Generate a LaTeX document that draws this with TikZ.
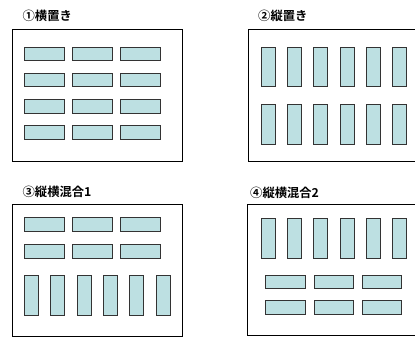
\documentclass[tikz,border=0pt]{standalone}
\usepackage{fontspec}
\newfontfamily\cjk{Noto Sans CJK JP}[BoldFont={Noto Sans CJK JP Bold}]
\definecolor{slotfill}{HTML}{BDE0E2}
\definecolor{slotline}{HTML}{333333}
\tikzset{
  frame/.style={draw=black, line width=0.9pt},
  slot/.style={draw=slotline, fill=slotfill, line width=1pt},
  title/.style={anchor=west, inner sep=0pt, font=\cjk\bfseries\fontsize{12.3}{14}\selectfont}
}
\begin{document}
\begin{tikzpicture}[x=1pt,y=-1pt]
\clip (0,0) rectangle (415,338);
\fill[white] (0,0) rectangle (415,338);
% titles
\node[title] (t1) at (22.5,16) {①横置き};
\node[title] (t2) at (258,16) {②縦置き};
\node[title] (t3) at (22.5,192) {③縦横混合1};
\node[title] (t4) at (250,193) {④縦横混合2};
% frames
\draw[frame] (12,29.3) rectangle (182.7,161);
\draw[frame] (248.3,29.3) rectangle (430,161);
\draw[frame] (12,204.3) rectangle (182.7,336.5);
\draw[frame] (247.7,204.3) rectangle (430,335.7);
% panel 1: horizontal slots 3x4
\foreach \x in {24.3,72.7,120.7}
  \foreach \y in {47,73.3,99.6,125.9}
    \draw[slot] (\x,\y) rectangle ++(40.2,13.6);
% panel 2: vertical slots 6x2
\foreach \x in {261,287.3,313.6,340,366.3,392.7}
  \foreach \y in {47,104.3}
    \draw[slot] (\x,\y) rectangle ++(14,39.7);
% panel 3
\foreach \x in {24.3,72.7,120.7}
  \foreach \y in {217.7,244.3}
    \draw[slot] (\x,\y) rectangle ++(40.2,13.8);
\foreach \x in {24.3,50.6,77,103.3,129.6,156}
  \draw[slot] (\x,275.3) rectangle ++(14,40.3);
% panel 4
\foreach \x in {261,287.3,313.6,340,366.3,392.7}
  \draw[slot] (\x,218.3) rectangle ++(14,40);
\foreach \x in {265.7,314.3,362.3}
  \foreach \y in {275.3,300.7}
    \draw[slot] (\x,\y) rectangle ++(39.6,13.6);
\end{tikzpicture}
\end{document}
